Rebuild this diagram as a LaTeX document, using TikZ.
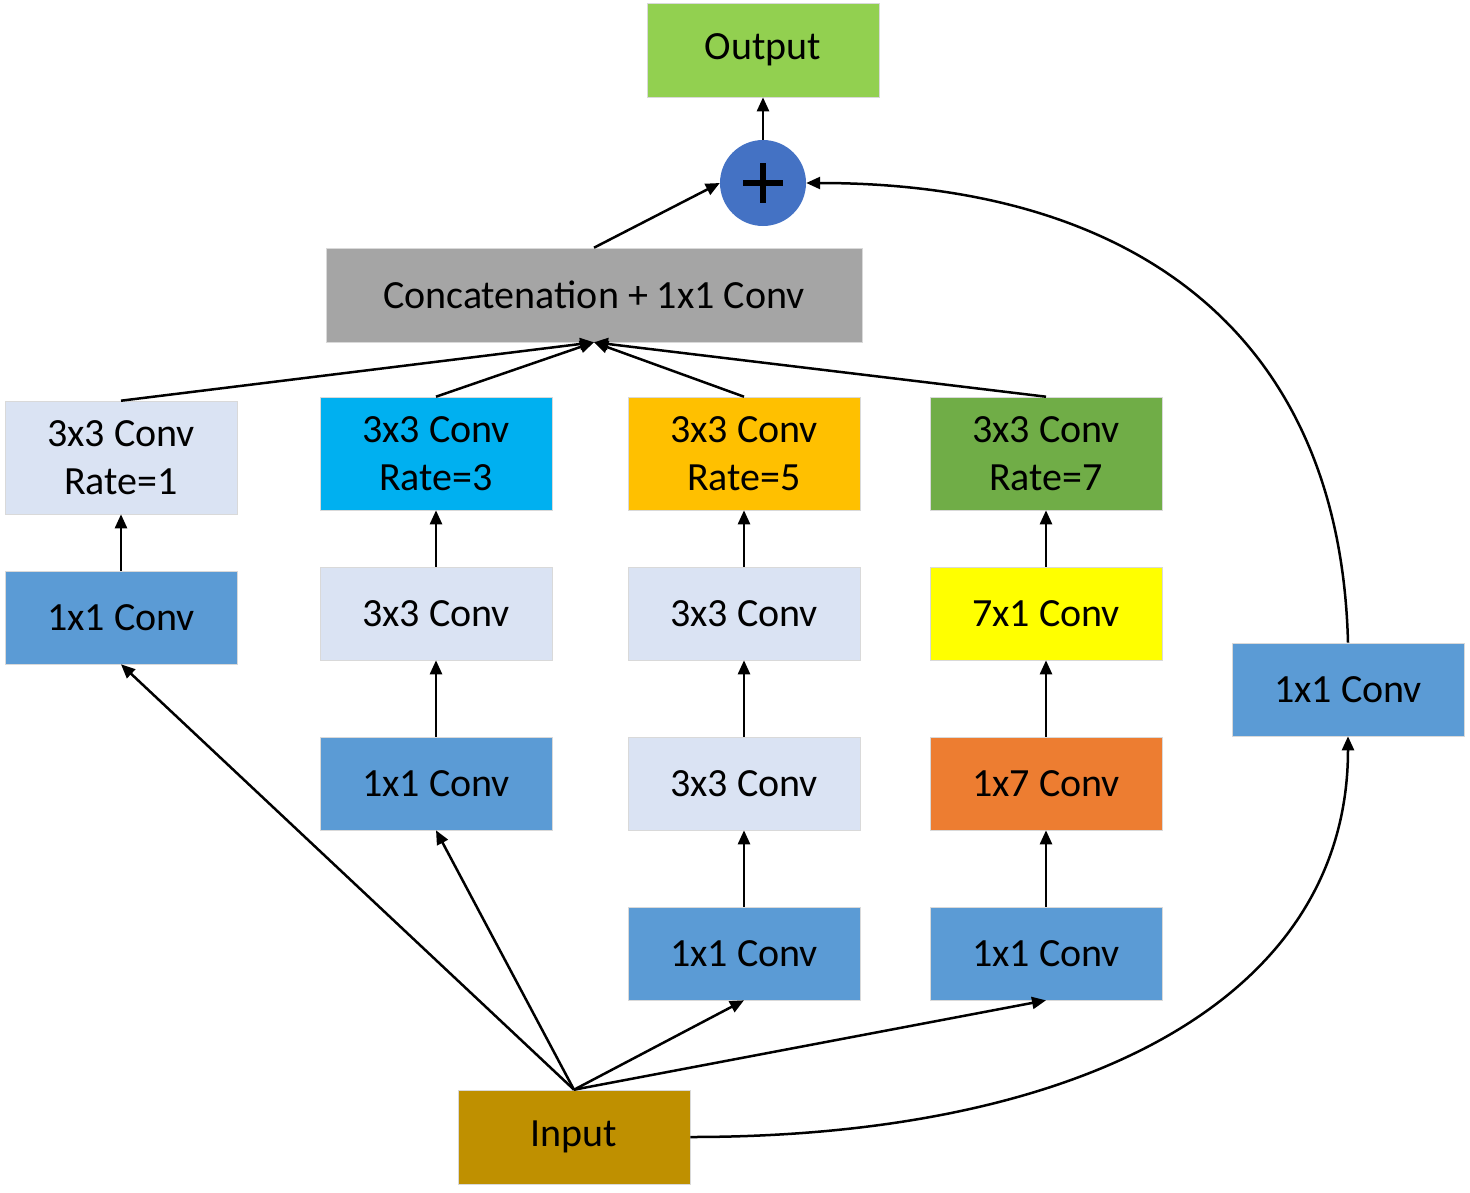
\documentclass[tikz,border=0pt]{standalone}
\usepackage{fontspec}
\setmainfont{Carlito}
\usetikzlibrary{arrows.meta}
\definecolor{cOut}{HTML}{92D050}
\definecolor{cPlus}{HTML}{4472C4}
\definecolor{cCat}{HTML}{A5A5A5}
\definecolor{cLight}{HTML}{DAE3F3}
\definecolor{cCyan}{HTML}{00B0F0}
\definecolor{cGold}{HTML}{FFC000}
\definecolor{cGreen}{HTML}{70AD47}
\definecolor{cBlue}{HTML}{5B9BD5}
\definecolor{cYellow}{HTML}{FFFF00}
\definecolor{cOrange}{HTML}{ED7D31}
\definecolor{cIn}{HTML}{BF9000}
\begin{document}
\begin{tikzpicture}[x=1pt,y=-1pt,
  box/.style={rectangle, minimum width=232, minimum height=93, inner sep=0pt,
    align=center, font=\fontsize{40}{48}\selectfont, draw=white!85!black, line width=0.6pt},
  tall/.style={box, minimum height=113},
  conn/.style={line width=2.5pt, -{Triangle[length=14pt,width=12pt]}}]
\useasboundingbox (0,0) rectangle (1470,1192);
% top
\node[box, fill=cOut, minimum width=232, minimum height=94] (out) at (763,50) {Output};
\node[circle, fill=cPlus, minimum size=86, inner sep=0pt] (plus) at (763,183) {};
\draw[line width=6pt] (743,183) -- (783,183) (763,163) -- (763,203);
\node[box, fill=cCat, minimum width=536, minimum height=94] (cat) at (594,295) {Concatenation + 1x1 Conv};
% row 1
\node[tall, fill=cLight] (r1a) at (121,457.5) {3x3 Conv\\Rate=1};
\node[tall, fill=cCyan] (r1b) at (436,453.5) {3x3 Conv\\Rate=3};
\node[tall, fill=cGold] (r1c) at (744,453.5) {3x3 Conv\\Rate=5};
\node[tall, fill=cGreen] (r1d) at (1046,453.5) {3x3 Conv\\Rate=7};
% row 2
\node[box, fill=cBlue] (r2a) at (121,617.5) {1x1 Conv};
\node[box, fill=cLight] (r2b) at (436,613.5) {3x3 Conv};
\node[box, fill=cLight] (r2c) at (744,613.5) {3x3 Conv};
\node[box, fill=cYellow] (r2d) at (1046,613.5) {7x1 Conv};
% row 3
\node[box, fill=cBlue] (r3b) at (436,783.5) {1x1 Conv};
\node[box, fill=cLight] (r3c) at (744,783.5) {3x3 Conv};
\node[box, fill=cOrange] (r3d) at (1046,783.5) {1x7 Conv};
% row 4
\node[box, fill=cBlue] (r4c) at (744,953.5) {1x1 Conv};
\node[box, fill=cBlue] (r4d) at (1046,953.5) {1x1 Conv};
% right
\node[box, fill=cBlue] (rr) at (1348,689.5) {1x1 Conv};
% input
\node[box, fill=cIn, minimum height=94] (in) at (574,1137) {Input};
% connectors
\draw[conn] (plus.north) -- (out.south);
\draw[conn] (cat.north) -- (plus.west);
\draw[conn] (rr.north) .. controls (1340,330) and (1130,183) .. (plus.east);
\draw[conn] (in.east) .. controls (1080,1137) and (1348,1000) .. (rr.south);
\draw[conn] (r1a.north) -- (cat.south);
\draw[conn] (r1b.north) -- (cat.south);
\draw[conn] (r1c.north) -- (cat.south);
\draw[conn] (r1d.north) -- (cat.south);
\draw[conn] (r2a.north) -- (r1a.south);
\draw[conn] (r2b.north) -- (r1b.south);
\draw[conn] (r2c.north) -- (r1c.south);
\draw[conn] (r2d.north) -- (r1d.south);
\draw[conn] (r3b.north) -- (r2b.south);
\draw[conn] (r3c.north) -- (r2c.south);
\draw[conn] (r3d.north) -- (r2d.south);
\draw[conn] (r4c.north) -- (r3c.south);
\draw[conn] (r4d.north) -- (r3d.south);
\draw[conn] (in.north) -- (r2a.south);
\draw[conn] (in.north) -- (r3b.south);
\draw[conn] (in.north) -- (r4c.south);
\draw[conn] (in.north) -- (r4d.south);
\end{tikzpicture}
\end{document}
